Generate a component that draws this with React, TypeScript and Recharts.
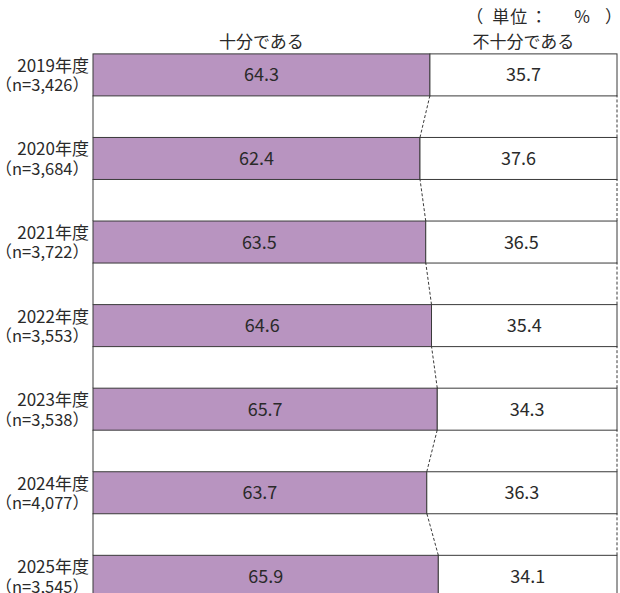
import React from "react";
import { BarChart, Bar, XAxis, YAxis } from "recharts";

const years = ["2019年度", "2020年度", "2021年度", "2022年度", "2023年度", "2024年度", "2025年度"];
const sampleSizes = ["3,426", "3,684", "3,722", "3,553", "3,538", "4,077", "3,545"];
const sufficient = [64.3, 62.4, 63.5, 64.6, 65.7, 63.7, 65.9];
const insufficient = [35.7, 37.6, 36.5, 35.4, 34.3, 36.3, 34.1];
const seriesNames = ["十分である", "不十分である"];
const unitParts = ["（", "単位", "：", "%", "）"];

const data = years.map((y, i) => ({
  year: y,
  n: sampleSizes[i],
  sufficient: sufficient[i],
  insufficient: insufficient[i],
}));

const FONT = "'Noto Sans CJK JP', 'Noto Sans', sans-serif";
const TEXT = "#2a2a2a";
const EDGE = "#3a3a3a";
const PURPLE = "#b894c0";

const makeShape = (key: string, fill: string, name: string) => (props: any) => {
  const { x, y, width, height, payload } = props;
  const idx = typeof props.index === "number" ? props.index : years.indexOf(payload.year);
  const value = key === "sufficient" ? sufficient[idx] : insufficient[idx];
  const gap = height; // bar thickness equals the gap (barCategoryGap 25%)
  const els: any[] = [];
  els.push(
    <rect key="r" x={x} y={y} width={width} height={height} fill={fill} stroke={EDGE} strokeWidth={1} />
  );
  if (idx > 0) {
    if (key === "sufficient") {
      const unit = width / sufficient[idx];
      const prevX = x + unit * sufficient[idx - 1];
      els.push(
        <line key="c" x1={x + width} y1={y} x2={prevX} y2={y - gap} stroke={EDGE} strokeWidth={1} strokeDasharray="3 2" />
      );
      els.push(<line key="l" x1={x} y1={y} x2={x} y2={y - gap} stroke={EDGE} strokeWidth={1} />);
    } else {
      els.push(
        <line key="d" x1={x + width} y1={y} x2={x + width} y2={y - gap} stroke={EDGE} strokeWidth={1} strokeDasharray="3 2" />
      );
    }
  }
  if (idx === 0) {
    els.push(
      <text key="h" x={x + width / 2} y={y - 6} textAnchor="middle" fontSize={17} fontFamily={FONT} fill={TEXT}>
        {name}
      </text>
    );
  }
  els.push(
    <text key="v" x={x + width / 2} y={y + height / 2 + 6.5} textAnchor="middle" fontSize={18} fontFamily={FONT} fill={TEXT}>
      {value.toFixed(1)}
    </text>
  );
  return <g>{els}</g>;
};

const YearTick = (props: any) => {
  const { x, y, payload } = props;
  const idx = years.indexOf(payload.value);
  return (
    <g>
      <text x={x} y={y - 3} textAnchor="end" fontSize={17} fontFamily={FONT} fill={TEXT}>
        {payload.value}
      </text>
      <text x={x} y={y + 16.5} textAnchor="end" fontSize={16.5} fontFamily={FONT} fill={TEXT}>
        {`（n=${sampleSizes[idx]}）`}
      </text>
    </g>
  );
};

export default function App() {
  return (
    <div
      style={{
        position: "fixed",
        top: 0,
        left: 0,
        width: 620,
        height: 593,
        overflow: "hidden",
        background: "#fff",
      }}
    >
      <div
        style={{
          position: "absolute",
          top: 4,
          right: 5,
          fontSize: 17,
          fontFamily: FONT,
          color: TEXT,
          lineHeight: "24px",
          whiteSpace: "nowrap",
        }}
      >
        <span style={{ marginRight: 9 }}>{unitParts[0]}</span>
        <span style={{ letterSpacing: 1 }}>{unitParts[1]}</span>
        <span style={{ margin: "0 27px 0 2px" }}>{unitParts[2]}</span>
        <span style={{ marginRight: 15 }}>{unitParts[3]}</span>
        <span style={{ display: "inline-block", width: 10, overflow: "visible" }}>{unitParts[4]}</span>
      </div>
      <BarChart
        layout="vertical"
        width={620}
        height={618}
        data={data}
        margin={{ top: 33, right: 3, left: 0, bottom: 0 }}
        barCategoryGap="25%"
      >
        <XAxis type="number" domain={[0, 100]} hide />
        <YAxis
          type="category"
          dataKey="year"
          width={93}
          axisLine={false}
          tickLine={false}
          tickSize={0}
          tickMargin={4}
          tick={<YearTick />}
        />
        <Bar
          dataKey="sufficient"
          stackId="a"
          fill={PURPLE}
          isAnimationActive={false}
          shape={makeShape("sufficient", PURPLE, seriesNames[0])}
        />
        <Bar
          dataKey="insufficient"
          stackId="a"
          fill="#ffffff"
          isAnimationActive={false}
          shape={makeShape("insufficient", "#ffffff", seriesNames[1])}
        />
      </BarChart>
    </div>
  );
}
